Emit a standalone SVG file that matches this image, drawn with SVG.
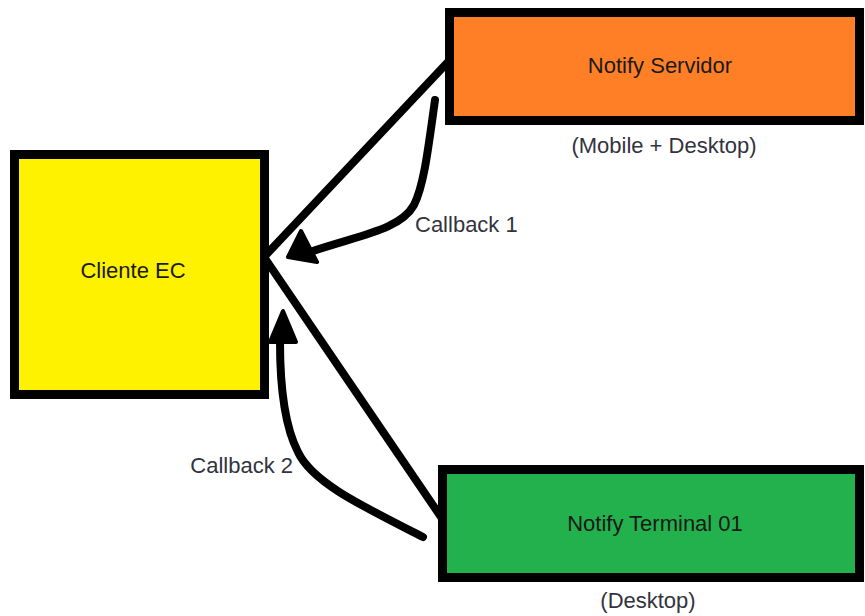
<svg xmlns="http://www.w3.org/2000/svg" width="865" height="616" viewBox="0 0 865 616">
<style>
.box{stroke:#000;stroke-width:9}
.t{font-family:"Liberation Sans",Arial,sans-serif;font-size:22px;fill:#1a1a1a;text-anchor:middle}
.lbl{font-family:"Liberation Sans",Arial,sans-serif;font-size:22px;fill:#333340}
.ln{stroke:#000;stroke-width:8;fill:none;stroke-linecap:round;stroke-linejoin:round}
.head{fill:#000;stroke:#000;stroke-width:4;stroke-linejoin:round}
</style>
<rect width="865" height="616" fill="#fff"/>
<g id="connectors">
<path class="ln" d="M447,63 L264,257 L441,517"/>
<path class="ln" d="M435,100 C428,150 424,185 414,205 C400,230 360,235 310,252"/>
<polygon class="head" points="288,257 301,231 317,262"/>
<path class="ln" d="M423,537 C360,505 312,482 298,452 C284,425 280,385 280,342"/>
<polygon class="head" points="283,311 270,342 296,342"/>
</g>
<g id="cliente">
<rect class="box" x="14.5" y="154.5" width="250" height="240" fill="#FFF200"/>
<text class="t" x="133" y="278">Cliente EC</text>
</g>
<g id="servidor">
<rect class="box" x="449.5" y="12.5" width="410" height="108" fill="#FF7F27"/>
<text class="t" x="660" y="73">Notify Servidor</text>
<text class="lbl" x="664" y="153" text-anchor="middle">(Mobile + Desktop)</text>
</g>
<g id="terminal">
<rect class="box" x="442.5" y="469.5" width="417" height="108" fill="#22B14C"/>
<text class="t" x="655" y="531">Notify Terminal 01</text>
<text class="lbl" x="648" y="608" text-anchor="middle">(Desktop)</text>
</g>
<g id="labels">
<text class="lbl" x="415" y="232">Callback 1</text>
<text class="lbl" x="293" y="473" text-anchor="end">Callback 2</text>
</g>
</svg>
